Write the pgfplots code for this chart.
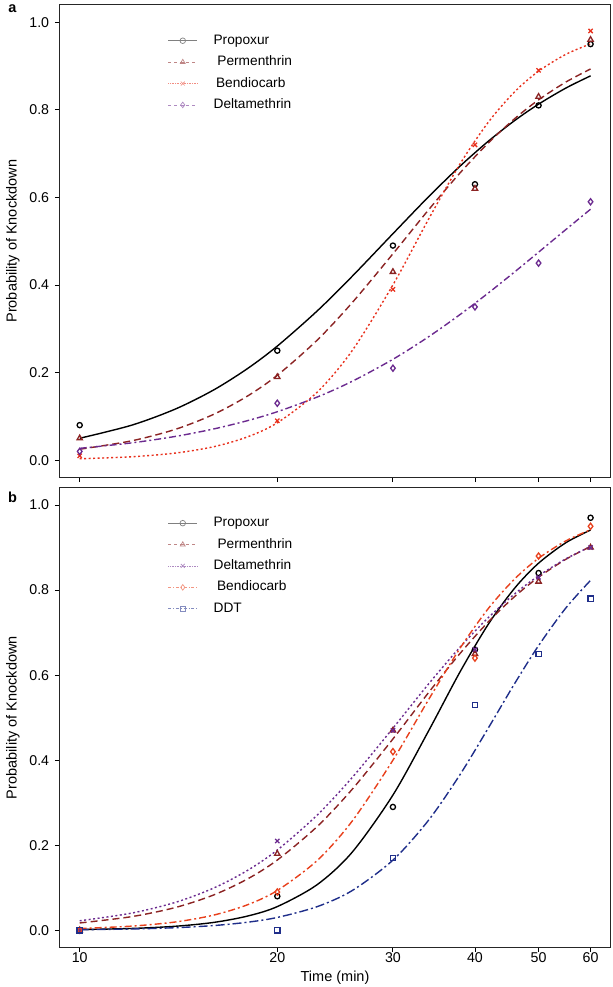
\documentclass[border=0pt]{standalone}
\usepackage{fontspec}
\setmainfont{Liberation Sans}
\usepackage{pgfplots}
\usepackage{pgfplotstable}
\pgfplotsset{compat=1.18}

\definecolor{cbrown}{HTML}{8B2323}
\definecolor{cred}{HTML}{E8301C}
\definecolor{corange}{HTML}{E8401C}
\definecolor{cpurple}{HTML}{6B2A8F}
\definecolor{cnavy}{HTML}{1F2E8A}

\pgfplotstableread{
t prop perm bend delt
10 0.0500 0.0250 0.0032 0.0270
12 0.0799 0.0442 0.0078 0.0395
14 0.1170 0.0706 0.0163 0.0543
16 0.1604 0.1047 0.0307 0.0713
18 0.2088 0.1461 0.0530 0.0901
20 0.2605 0.1938 0.0854 0.1106
23 0.3407 0.2741 0.1553 0.1441
26 0.4197 0.3595 0.2500 0.1800
30 0.5171 0.4712 0.4002 0.2303
34 0.6015 0.5717 0.5504 0.2818
38 0.6719 0.6566 0.6774 0.3330
42 0.7293 0.7254 0.7733 0.3827
46 0.7757 0.7800 0.8414 0.4302
50 0.8129 0.8227 0.8882 0.4749
55 0.8495 0.8632 0.9265 0.5264
60 0.8775 0.8932 0.9506 0.5730
}\curvesA

\pgfplotstableread{
t prop perm bend delt
10 0.08 0.05 0.01 0.02
20 0.25 0.19 0.09 0.13
30 0.49 0.43 0.39 0.21
40 0.63 0.62 0.72 0.35
50 0.81 0.83 0.89 0.45
60 0.95 0.96 0.98 0.59
}\pointsA

\pgfplotstableread{
t prop perm delt bend ddt
10 0.0017 0.0172 0.0223 0.0042 0.0013
12 0.0043 0.0321 0.0404 0.0098 0.0030
14 0.0095 0.0537 0.0658 0.0196 0.0061
16 0.0185 0.0831 0.0993 0.0357 0.0111
18 0.0333 0.1204 0.1405 0.0598 0.0189
20 0.0557 0.1652 0.1888 0.0936 0.0302
23 0.1073 0.2440 0.2709 0.1641 0.0556
26 0.1835 0.3314 0.3591 0.2566 0.0933
30 0.3180 0.4499 0.4751 0.4000 0.1650
34 0.4689 0.5590 0.5793 0.5425 0.2589
38 0.6088 0.6517 0.6665 0.6642 0.3671
42 0.7217 0.7265 0.7364 0.7582 0.4778
46 0.8049 0.7851 0.7913 0.8265 0.5808
50 0.8632 0.8302 0.8336 0.8748 0.6694
55 0.9112 0.8722 0.8733 0.9155 0.7576
60 0.9412 0.9025 0.9023 0.9418 0.8229
}\curvesB

\pgfplotstableread{
t prop perm delt bend ddt
10 0 0 0 0 0
20 0.08 0.18 0.21 0.09 0
30 0.29 0.47 0.47 0.42 0.17
40 0.66 0.65 0.66 0.64 0.53
50 0.84 0.82 0.83 0.88 0.65
60 0.97 0.90 0.90 0.95 0.78
}\pointsB

\newcommand{\fs}{\fontsize{13.7bp}{16bp}\selectfont}
\newcommand{\fst}{\fontsize{14.2bp}{16bp}\selectfont}
\newcommand{\fsl}{\fontsize{14.5bp}{17bp}\selectfont}

\pgfplotsset{
  legend image code/.code={\draw[mark repeat=2,mark phase=2,#1] plot coordinates {(0bp,0bp) (14.5bp,0bp) (29bp,0bp)};},
  every axis/.append style={
    scale only axis, width=551.4bp,
    xmin=9.31, xmax=64.4, ymin=-0.04, ymax=1.04,
    xtick={10,20,30,40,50,60}, minor xtick={},
    ytick={0,0.2,0.4,0.6,0.8,1.0},
    yticklabels={0.0,0.2,0.4,0.6,0.8,1.0},
    tick align=outside, tick pos=left, major tick length=4.5bp,
    axis line style={line width=1bp, black!85},
    major tick style={black, line width=0.9bp},
    tick label style={font=\fst, inner sep=0pt},
    yticklabel style={anchor=east, xshift=-5.5bp},
    xticklabel style={anchor=base, yshift=-10.4bp},
    label style={font=\fsl},
    legend cell align=left,
    legend style={draw=none, fill=none, inner sep=0pt, row sep=8.4bp, column sep=16bp,
      nodes={inner sep=0pt, text height=10bp, text depth=3bp}, font=\fs},
  }
}

\begin{document}
\fs
\begin{tikzpicture}
\path[use as bounding box] (0,0) rectangle (613bp,987bp);

% ---------- panel a ----------
\begin{axis}[xmode=log, height=473bp, at={(59.3bp,509.3bp)}, anchor=south west,
  xticklabels={},
  ylabel={Probability of Knockdown},
  ylabel style={at={(axis description cs:-0.084,0.5)}, rotate=0, anchor=center},
  legend style={at={(rel axis cs:0.1966,0.938)}, anchor=north west}]
\addlegendimage{color=black!50, line width=0.7bp, mark=o, mark size=2.8bp, mark options={solid}}
\addlegendentry{Propoxur}
\addlegendimage{color=cbrown!55, line width=0.7bp, dashed, mark=triangle, mark size=2.8bp, mark options={solid}}
\addlegendentry{\hspace{3.8bp}Permenthrin}
\addlegendimage{color=cred!55, line width=0.7bp, densely dotted, mark=x, mark size=2.8bp, mark options={solid}}
\addlegendentry{\hspace{2.5bp}Bendiocarb}
\addlegendimage{color=cpurple!55, line width=0.7bp, dashed, mark=diamond, mark size=2.8bp, mark options={solid}}
\addlegendentry{Deltamethrin}

\addplot[smooth, no marks, line width=1.4bp, black, forget plot] table[x=t, y=prop] {\curvesA};
\addplot[smooth, no marks, line width=1.4bp, cbrown, dash pattern=on 7bp off 4bp, forget plot] table[x=t, y=perm] {\curvesA};
\addplot[smooth, no marks, line width=1.4bp, cred, dash pattern=on 2bp off 2.5bp, forget plot] table[x=t, y=bend] {\curvesA};
\addplot[smooth, no marks, line width=1.4bp, cpurple, dash pattern=on 7bp off 3bp on 2bp off 3bp, forget plot] table[x=t, y=delt] {\curvesA};

\addplot[only marks, black, mark=o, mark size=2.6bp, mark options={solid, line width=1.3bp}, forget plot] table[x=t, y=prop] {\pointsA};
\addplot[only marks, cbrown, mark=triangle, mark size=3.1bp, mark options={solid, line width=1.3bp}, forget plot] table[x=t, y=perm] {\pointsA};
\addplot[only marks, cred, mark=x, mark size=3.0bp, mark options={solid, line width=1.3bp}, forget plot] table[x=t, y=bend] {\pointsA};
\addplot[only marks, cpurple, mark=diamond, mark size=3.1bp, mark options={solid, line width=1.3bp}, forget plot] table[x=t, y=delt] {\pointsA};
\end{axis}

% ---------- panel b ----------
\begin{axis}[xmode=log, height=459.3bp, at={(59.3bp,39.7bp)}, anchor=south west,
  xticklabels={10,20,30,40,50,60},
  xlabel={Time (min)},
  xlabel style={at={(axis description cs:0.5,-0.0734)}, anchor=base},
  ylabel={Probability of Knockdown},
  ylabel style={at={(axis description cs:-0.084,0.5)}, rotate=0, anchor=center},
  legend style={at={(rel axis cs:0.1966,0.938)}, anchor=north west}]
\addlegendimage{color=black!50, line width=0.7bp, mark=o, mark size=2.8bp, mark options={solid}}
\addlegendentry{Propoxur}
\addlegendimage{color=cbrown!55, line width=0.7bp, dashed, mark=triangle, mark size=2.8bp, mark options={solid}}
\addlegendentry{\hspace{4bp}Permenthrin}
\addlegendimage{color=cpurple!55, line width=0.7bp, densely dotted, mark=x, mark size=2.8bp, mark options={solid}}
\addlegendentry{Deltamethrin}
\addlegendimage{color=corange!55, line width=0.7bp, dashdotted, mark=diamond, mark size=2.8bp, mark options={solid}}
\addlegendentry{\hspace{3.5bp}Bendiocarb}
\addlegendimage{color=cnavy!55, line width=0.7bp, dashdotted, mark=square, mark size=2.8bp, mark options={solid}}
\addlegendentry{DDT}

\addplot[smooth, no marks, line width=1.4bp, black, forget plot] table[x=t, y=prop] {\curvesB};
\addplot[smooth, no marks, line width=1.4bp, cbrown, dash pattern=on 7bp off 4bp, forget plot] table[x=t, y=perm] {\curvesB};
\addplot[smooth, no marks, line width=1.4bp, cpurple, dash pattern=on 2bp off 2.5bp, forget plot] table[x=t, y=delt] {\curvesB};
\addplot[smooth, no marks, line width=1.4bp, corange, dash pattern=on 7bp off 3bp on 2bp off 3bp, forget plot] table[x=t, y=bend] {\curvesB};
\addplot[smooth, no marks, line width=1.4bp, cnavy, dash pattern=on 9bp off 3bp on 2bp off 3bp, forget plot] table[x=t, y=ddt] {\curvesB};

\addplot[only marks, black, mark=o, mark size=2.6bp, mark options={solid, line width=1.3bp}, forget plot] table[x=t, y=prop] {\pointsB};
\addplot[only marks, cbrown, mark=triangle, mark size=3.1bp, mark options={solid, line width=1.3bp}, forget plot] table[x=t, y=perm] {\pointsB};
\addplot[only marks, cpurple, mark=x, mark size=3.0bp, mark options={solid, line width=1.3bp}, forget plot] table[x=t, y=delt] {\pointsB};
\addplot[only marks, corange, mark=diamond, mark size=3.1bp, mark options={solid, line width=1.3bp}, forget plot] table[x=t, y=bend] {\pointsB};
\addplot[only marks, cnavy, mark=square, mark size=2.6bp, mark options={solid, line width=1.3bp}, forget plot] table[x=t, y=ddt] {\pointsB};
\end{axis}

\node[font=\fontsize{14.5bp}{16bp}\selectfont\bfseries, anchor=base] at (12.5bp,974bp) {a};
\node[font=\fontsize{14.5bp}{16bp}\selectfont\bfseries, anchor=base] at (12.5bp,484bp) {b};
\end{tikzpicture}
\end{document}
